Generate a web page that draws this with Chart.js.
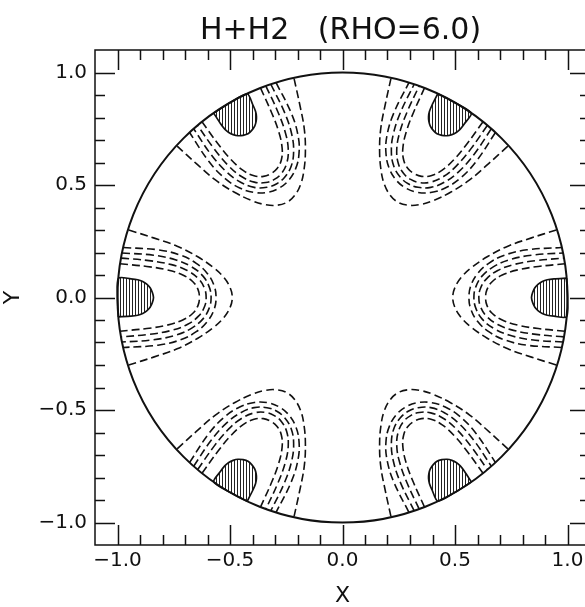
<!DOCTYPE html>
<html>
<head>
<meta charset="utf-8">
<script src="https://cdn.jsdelivr.net/npm/chart.js@4/dist/chart.umd.min.js"></script>
<style>
  html, body { margin: 0; padding: 0; background: #fff; overflow: hidden; }
  #wrap { position: relative; width: 585px; height: 607px; overflow: hidden; }
  #c { display: block; }
</style>
</head>
<body>
<div id="wrap"><canvas id="c" width="600" height="607"></canvas></div>
<script>
// ---- chart text and axis setup ----
const titleText = 'H+H2   (RHO=6.0)';
const xTitle = 'X';
const yTitle = 'Y';
const axisMin = -1.1;
const axisMax = 1.1;
const tickStep = 0.1;
const majorStep = 0.5;

// Directions (degrees) of the six lobes around the disk.
const lobeAngles = [0, 60, 120, 180, 240, 300];

// Dashed contour levels of one lobe, as half-curves in the lobe frame:
// [distance along the lobe axis, offset across it]; the other half mirrors it.
const contourA = [[0.636, 0], [0.642, 0.035], [0.665, 0.070], [0.710, 0.100], [0.780, 0.123], [0.870, 0.138], [0.989, 0.150]];
const contourB = [[0.606, 0], [0.613, 0.040], [0.640, 0.083], [0.690, 0.120], [0.760, 0.146], [0.860, 0.164], [0.984, 0.175]];
const contourC = [[0.584, 0], [0.592, 0.046], [0.620, 0.095], [0.670, 0.136], [0.740, 0.167], [0.840, 0.188], [0.980, 0.198]];
const contourD = [[0.562, 0], [0.570, 0.051], [0.600, 0.106], [0.650, 0.152], [0.720, 0.188], [0.820, 0.212], [0.975, 0.222]];
const contourE = [[0.490, 0], [0.500, 0.045], [0.530, 0.092], [0.575, 0.134], [0.645, 0.182], [0.735, 0.228], [0.840, 0.265], [0.950, 0.300]];
const dashedContours = [contourA, contourB, contourC, contourD, contourE];

// Solid (hatched) level: inner edge, then the stretch of the wall it closes on.
const hatchedContour = [[0.840, 0], [0.845, 0.022], [0.855, 0.043], [0.870, 0.059], [0.888, 0.071], [0.910, 0.079], [0.940, 0.083], [0.996, 0.086]];
const hatchedWall = [[1.0, 0]];

// Outer boundary of the disk (radius in data units).
const wallRadius = 1.0;

const FONT = "'DejaVu Sans', sans-serif";

// lobe frame -> x/y
function place(angleDeg, u, v) {
  const a = angleDeg * Math.PI / 180;
  return { x: u * Math.cos(a) - v * Math.sin(a), y: u * Math.sin(a) + v * Math.cos(a) };
}

// whole curve: mirrored half, then the read half
function fullCurve(angle, half) {
  const pts = [];
  for (let i = half.length - 1; i >= 0; i--) pts.push(place(angle, half[i][0], -half[i][1]));
  for (let i = 1; i < half.length; i++) pts.push(place(angle, half[i][0], half[i][1]));
  return pts;
}

function hatchedRegion(angle) {
  const pts = [];
  for (let i = hatchedContour.length - 1; i >= 0; i--) pts.push(place(angle, hatchedContour[i][0], hatchedContour[i][1]));
  for (let i = 1; i < hatchedContour.length; i++) pts.push(place(angle, hatchedContour[i][0], -hatchedContour[i][1]));
  hatchedWall.forEach(p => pts.push(place(angle, p[0], p[1])));
  pts.push(pts[0]);
  return pts;
}

// vertical hatch fill
const tile = document.createElement('canvas');
tile.width = 3; tile.height = 3;
const tctx = tile.getContext('2d');
tctx.fillStyle = '#fff'; tctx.fillRect(0, 0, 3, 3);
tctx.fillStyle = '#222'; tctx.fillRect(0, 0, 1, 3);
const canvas = document.getElementById('c');
const hatch = canvas.getContext('2d').createPattern(tile, 'repeat');

const datasets = [];
lobeAngles.forEach(angle => {
  dashedContours.forEach(half => {
    datasets.push({
      data: fullCurve(angle, half),
      borderColor: '#111',
      borderWidth: 1.6,
      borderDash: [8, 4],
      tension: 0.4,
      fill: false,
      pointRadius: 0
    });
  });
  datasets.push({
    data: hatchedRegion(angle),
    borderColor: '#111',
    borderWidth: 1.7,
    backgroundColor: hatch,
    tension: 0.25,
    fill: 'shape',
    pointRadius: 0
  });
});

function isMajor(v) {
  const r = v / majorStep;
  return Math.abs(r - Math.round(r)) < 1e-6;
}
function fmt(v) {
  const s = (Math.abs(v) < 1e-9 ? 0 : v).toFixed(1);
  return s.replace('-', '\u2212');
}

// disk wall
const wallPlugin = {
  id: 'wall',
  afterDatasetsDraw(chart) {
    const { ctx, scales: { x, y } } = chart;
    const cx = x.getPixelForValue(0), cy = y.getPixelForValue(0);
    const rx = x.getPixelForValue(wallRadius) - cx;
    const ry = cy - y.getPixelForValue(wallRadius);
    ctx.save();
    ctx.strokeStyle = '#111';
    ctx.lineWidth = 2;
    ctx.beginPath();
    ctx.ellipse(cx, cy, rx, ry, 0, 0, Math.PI * 2);
    ctx.stroke();
    ctx.restore();
  }
};

// frame, inward ticks on all four sides, title
const framePlugin = {
  id: 'frame',
  afterDraw(chart) {
    const { ctx, chartArea: a, scales: { x, y } } = chart;
    ctx.save();
    ctx.strokeStyle = '#111';
    ctx.lineWidth = 1.5;
    ctx.strokeRect(a.left, a.top, a.right - a.left, a.bottom - a.top);
    ctx.beginPath();
    x.ticks.forEach(t => {
      const px = Math.round(x.getPixelForValue(t.value)) + 0.5;
      if (px <= a.left + 1 || px >= a.right - 1) return;
      const len = isMajor(t.value) ? 20 : 10;
      ctx.moveTo(px, a.bottom); ctx.lineTo(px, a.bottom - len);
      ctx.moveTo(px, a.top); ctx.lineTo(px, a.top + len);
    });
    y.ticks.forEach(t => {
      const py = Math.round(y.getPixelForValue(t.value)) + 0.5;
      if (py <= a.top + 1 || py >= a.bottom - 1) return;
      const len = isMajor(t.value) ? 20 : 10;
      ctx.moveTo(a.left, py); ctx.lineTo(a.left + len, py);
      ctx.moveTo(a.right, py); ctx.lineTo(a.right - len, py);
    });
    ctx.stroke();
    ctx.fillStyle = '#111';
    ctx.font = '30px ' + FONT;
    ctx.textAlign = 'center';
    ctx.textBaseline = 'alphabetic';
    ctx.fillText(titleText, (a.left + a.right) / 2 - 2, 39);
    ctx.restore();
  }
};

const tickFont = { family: FONT, size: 20 };
const titleFont = { family: FONT, size: 22, lineHeight: 1 };

new Chart(canvas, {
  type: 'line',
  data: { datasets },
  options: {
    responsive: false,
    animation: false,
    devicePixelRatio: 1,
    layout: { padding: { top: 50, right: 10, left: 0, bottom: 0 } },
    plugins: { legend: { display: false }, tooltip: { enabled: false }, title: { display: false } },
    scales: {
      x: {
        type: 'linear', position: 'bottom', min: axisMin, max: axisMax,
        afterFit(s) { s.height = 62; },
        grid: { display: false, drawTicks: false },
        border: { display: false },
        ticks: {
          stepSize: tickStep, autoSkip: false, maxRotation: 0, padding: 4,
          color: '#111', font: tickFont,
          callback: v => isMajor(v) ? fmt(v) : ''
        },
        title: { display: true, text: xTitle, color: '#111', font: titleFont, padding: 0 }
      },
      y: {
        type: 'linear', position: 'left', min: axisMin, max: axisMax,
        afterFit(s) { s.width = 95; },
        grid: { display: false, drawTicks: false },
        border: { display: false },
        ticks: {
          stepSize: tickStep, autoSkip: false, padding: 8,
          color: '#111', font: tickFont,
          callback: v => isMajor(v) ? fmt(v) : ''
        },
        title: { display: true, text: yTitle, color: '#111', font: titleFont, padding: { top: 2, bottom: 0 } }
      }
    }
  },
  plugins: [wallPlugin, framePlugin]
});
</script>
</body>
</html>
